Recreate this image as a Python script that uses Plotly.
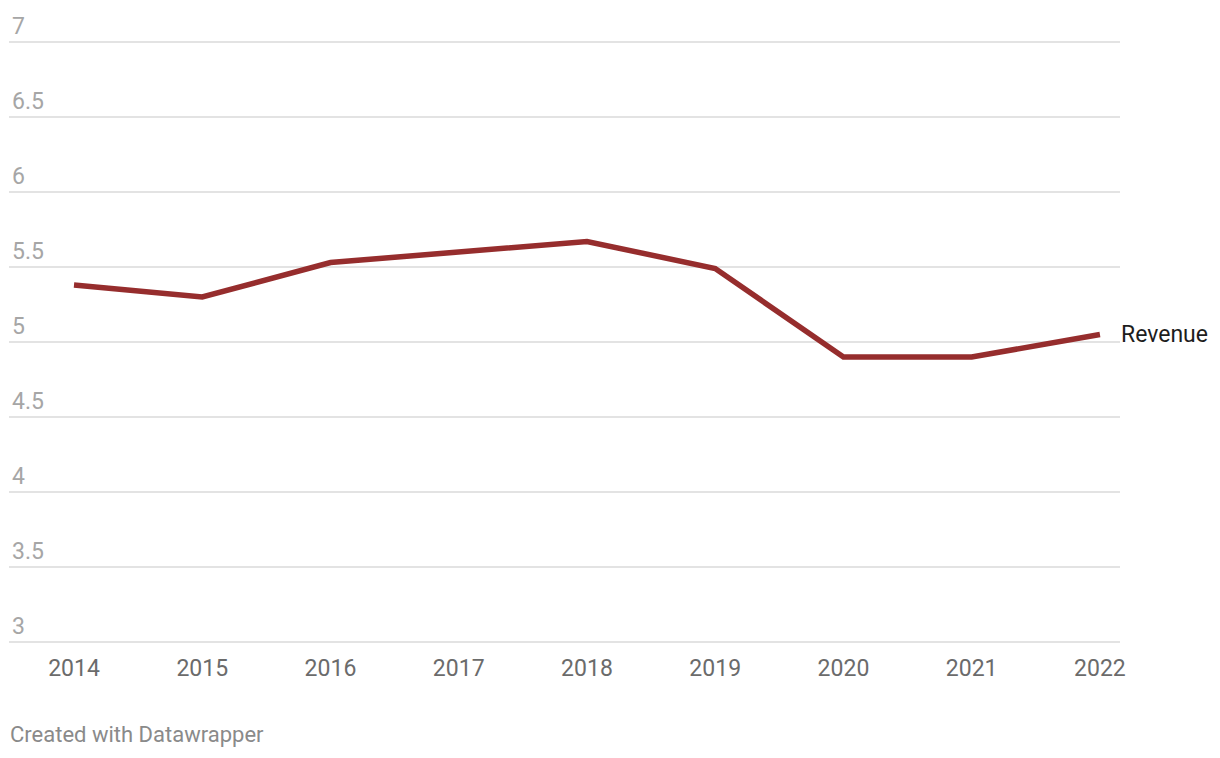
import plotly.graph_objects as go

years = [2014, 2015, 2016, 2017, 2018, 2019, 2020, 2021, 2022]
revenue = [5.38, 5.30, 5.53, 5.60, 5.67, 5.49, 4.90, 4.90, 5.05]
y_ticks = [3, 3.5, 4, 4.5, 5, 5.5, 6, 6.5, 7]
y_tick_text = ["3", "3.5", "4", "4.5", "5", "5.5", "6", "6.5", "7"]
series_name = "Revenue"

fig = go.Figure()
fig.add_trace(go.Scatter(
    x=years, y=revenue, mode="lines",
    line=dict(color="#962d2d", width=5.5),
    hoverinfo="skip", showlegend=False,
))
fig.add_annotation(
    x=years[-1], y=revenue[-1], text=series_name, showarrow=False,
    xanchor="left", yanchor="middle", xshift=19,
    font=dict(family="Roboto", size=23, color="#1d1d1d"),
)
fig.add_annotation(
    xref="paper", yref="paper", x=0, y=0, text="Created with Datawrapper",
    showarrow=False, xanchor="left", yanchor="top", xshift=-1, yshift=-75,
    font=dict(family="Roboto", size=22, color="#8a8a8a"),
)

fig.update_layout(
    width=1220, height=758,
    margin=dict(l=9, r=100, t=0, b=113),
    plot_bgcolor="white", paper_bgcolor="white",
    font=dict(family="Roboto"),
    xaxis=dict(
        range=[2013.4932, 2022.1564], tickvals=years, ticktext=[str(y) for y in years],
        showgrid=False, zeroline=False, showline=False, ticks="",
        tickfont=dict(size=23, color="#6b6b6b"), ticklabelstandoff=7,
    ),
    yaxis=dict(
        range=[2.98, 7.28], tickvals=y_ticks, ticktext=y_tick_text,
        showgrid=True, gridcolor="#e3e3e3", gridwidth=1.5, zeroline=False,
        showline=False, ticks="", ticklabelposition="inside top",
        tickfont=dict(size=23, color="#a6a6a6"),
    ),
)
fig.write_html("out.html", config={"displayModeBar": False},
               post_script="document.body.style.margin='0';document.body.style.overflow='hidden';")
